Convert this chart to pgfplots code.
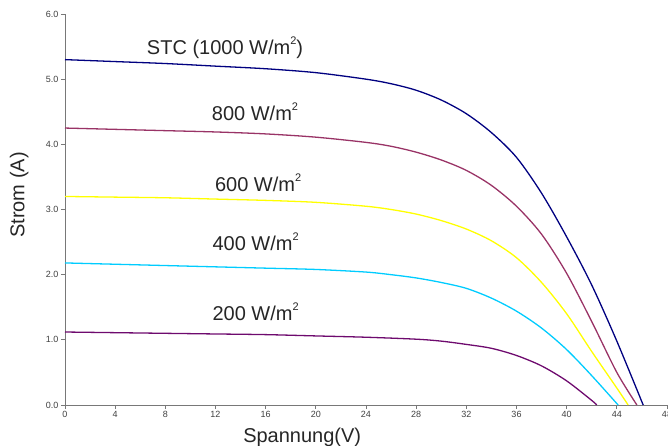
\documentclass[border=0pt]{standalone}
\usepackage{pgfplots}
\pgfplotsset{compat=1.18}
\usepackage{fontspec}
\setmainfont{Liberation Sans}

\definecolor{cStc}{RGB}{0,0,128}
\definecolor{cEight}{RGB}{153,51,102}
\definecolor{cSix}{RGB}{255,255,0}
\definecolor{cFour}{RGB}{0,204,255}
\definecolor{cTwo}{RGB}{110,10,110}
\definecolor{axgray}{RGB}{120,120,120}
\newcommand\sq{\raisebox{0.5em}{\fontsize{11bp}{12bp}\selectfont 2}}

\begin{document}
\begin{tikzpicture}
\begin{axis}[
  scale only axis, width=602bp, height=391bp,
  at={(0,0)}, anchor=south west,
  xmin=0, xmax=48, ymin=0, ymax=6,
  axis x line*=bottom, axis y line*=left,
  xtick={0,4,...,48}, ytick={0,1,...,6},
  yticklabel style={xshift=1bp, /pgf/number format/.cd,fixed,fixed zerofill,precision=1},
  /pgf/number format/assume math mode=true,
  tick align=outside, major tick length=4bp,
  axis line style={axgray, line width=0.8pt, -},
  tick style={axgray, line width=0.8pt},
  tick label style={font=\fontsize{9bp}{10bp}\selectfont, text=black!75},
  xticklabel style={yshift=1bp},
  xlabel={Spannung(V)}, ylabel={Strom (A)},
  label style={font=\fontsize{20bp}{24bp}\selectfont, text=black!85},
  xlabel style={at={(axis description cs:0.394,-0.097)}, anchor=base},
  ylabel style={at={(axis description cs:-0.076,0.537)}, anchor=center},
  every axis plot/.append style={line width=1.3pt, no marks, smooth, tension=0.5},
  clip=false,
]
\addplot[cStc] coordinates {(0,5.30)(4,5.27)(8,5.24)(12,5.20)(16,5.16)(20,5.10)(24,5.00)(26,4.93)(28,4.83)(30,4.68)(32,4.47)(34,4.18)(36,3.80)(38,3.25)(40,2.58)(42,1.84)(44,0.98)(46.1,0)};
\addplot[cEight] coordinates {(0,4.25)(4,4.23)(8,4.21)(12,4.19)(16,4.16)(20,4.11)(24,4.03)(26,3.97)(28,3.88)(30,3.76)(32,3.60)(34,3.37)(36,3.05)(38,2.62)(40,2.02)(42,1.28)(44,0.50)(45.6,0)};
\addplot[cSix] coordinates {(0,3.20)(4,3.19)(8,3.18)(12,3.16)(16,3.14)(20,3.11)(24,3.05)(26,3.00)(28,2.93)(30,2.83)(32,2.70)(34,2.52)(36,2.26)(38,1.88)(40,1.40)(42,0.82)(44,0.26)(44.9,0)};
\addplot[cFour] coordinates {(0,2.18)(4,2.16)(8,2.14)(12,2.12)(16,2.10)(20,2.08)(24,2.04)(26,2.00)(28,1.95)(30,1.88)(32,1.79)(34,1.64)(36,1.44)(38,1.18)(40,0.85)(42,0.45)(44.1,0)};
\addplot[cTwo] coordinates {(0,1.12)(4,1.11)(8,1.10)(12,1.09)(16,1.08)(20,1.06)(24,1.04)(28,1.01)(30,0.98)(32,0.93)(34,0.87)(36,0.76)(38,0.60)(40,0.37)(42,0.07)(42.4,0)};
\begin{scope}[every node/.style={font=\fontsize{20bp}{24bp}\selectfont, text=black!85}]
\node at (axis cs:12.76,5.48) {STC (1000 W/m\sq)};
\node at (axis cs:15.15,4.50) {800 W/m\sq};
\node at (axis cs:15.4,3.41) {600 W/m\sq};
\node at (axis cs:15.2,2.50) {400 W/m\sq};
\node at (axis cs:15.2,1.43) {200 W/m\sq};
\end{scope}
\end{axis}
\pgfresetboundingbox
\path[use as bounding box] (-65bp,-41bp) rectangle (603bp,405bp);
\end{tikzpicture}
\end{document}
